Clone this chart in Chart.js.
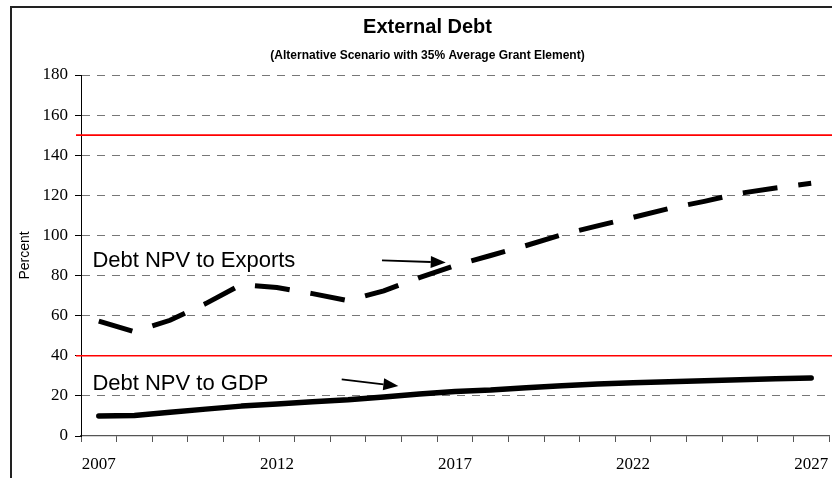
<!DOCTYPE html>
<html>
<head>
<meta charset="utf-8">
<title>External Debt</title>
<script src="https://cdn.jsdelivr.net/npm/chart.js@4/dist/chart.umd.min.js"></script>
<style>
  html, body { margin: 0; padding: 0; background: #fff; }
  #wrap { width: 832px; height: 478px; position: relative; }
</style>
</head>
<body>
<div id="wrap"><canvas id="debtChart" width="832" height="478"></canvas></div>
<script>
// Годы прогноза
const years = ['2007', '2008', '2009', '2010', '2011', '2012', '2013', '2014', '2015', '2016',
  '2017', '2018', '2019', '2020', '2021', '2022', '2023', '2024', '2025', '2026', '2027'];

// NPV долга к экспорту, %
const debtToExports = [57.3, 52, 57.7, 66, 75.5, 74, 71, 67.5, 72.4, 79,
  85, 90, 95, 100.4, 104.8, 109, 113.4, 117, 121, 123.7, 126];

// NPV долга к ВВП, %
const debtToGdp = [10, 10.2, 11.8, 13.4, 14.9, 16.0, 17.1, 18.1, 19.5, 20.9,
  22.2, 22.9, 24.0, 25.1, 25.9, 26.5, 27.1, 27.6, 28.0, 28.5, 28.9];

// Пороговые значения (красные линии)
const thresholds = [150, 40];

// Подписи серий со стрелками: [индекс года, значение]
const seriesNotes = [
  { text: 'Debt NPV to Exports', at: [-0.18, 84.3], from: [7.95, 87.6], to: [9.74, 86.5] },
  { text: 'Debt NPV to GDP', at: [-0.18, 23.1], from: [6.82, 28.2], to: [8.41, 24.9] },
];

// Рамка, пороги, подписи и стрелки
const decorations = {
  id: 'decorations',
  beforeDraw(chart) {
    const { ctx } = chart;
    ctx.save();
    ctx.strokeStyle = '#222';
    ctx.lineWidth = 2;
    ctx.beginPath();
    ctx.moveTo(11, chart.height);
    ctx.lineTo(11, 7);
    ctx.lineTo(chart.width, 7);
    ctx.stroke();
    ctx.restore();
  },
  beforeDatasetsDraw(chart) {
    const { ctx, chartArea } = chart;
    const y = chart.scales.y;
    ctx.save();
    ctx.strokeStyle = '#ff0000';
    ctx.lineWidth = 1.6;
    thresholds.forEach((v) => {
      const py = y.getPixelForValue(v);
      ctx.beginPath();
      ctx.moveTo(chartArea.left - 5, py);
      ctx.lineTo(chart.width, py);
      ctx.stroke();
    });
    ctx.restore();
  },
  afterDatasetsDraw(chart) {
    const { ctx } = chart;
    const { x, y } = chart.scales;
    const px = (p) => [x.getPixelForValue(p[0]), y.getPixelForValue(p[1])];
    ctx.save();
    ctx.fillStyle = '#000';
    ctx.strokeStyle = '#000';
    ctx.font = '22px "Liberation Sans", Arial, sans-serif';
    ctx.textBaseline = 'alphabetic';
    ctx.textAlign = 'left';
    seriesNotes.forEach((n) => {
      const [tx, ty] = px(n.at);
      ctx.fillText(n.text, tx, ty);

      // стрелка
      const [x1, y1] = px(n.from);
      const [x2, y2] = px(n.to);
      const ang = Math.atan2(y2 - y1, x2 - x1);
      const head = 15;
      const half = 6;
      const bx = x2 - head * Math.cos(ang);
      const by = y2 - head * Math.sin(ang);
      ctx.lineWidth = 1.8;
      ctx.beginPath();
      ctx.moveTo(x1, y1);
      ctx.lineTo(bx, by);
      ctx.stroke();
      ctx.beginPath();
      ctx.moveTo(x2, y2);
      ctx.lineTo(bx + half * Math.sin(ang), by - half * Math.cos(ang));
      ctx.lineTo(bx - half * Math.sin(ang), by + half * Math.cos(ang));
      ctx.closePath();
      ctx.fill();
    });
    ctx.restore();
  },
};

const serif = '"Liberation Serif", "Times New Roman", serif';
const sans = '"Liberation Sans", Arial, sans-serif';

new Chart(document.getElementById('debtChart'), {
  type: 'line',
  data: {
    labels: years,
    datasets: [
      {
        label: 'Debt NPV to Exports',
        data: debtToExports,
        borderColor: '#000',
        borderWidth: 5,
        borderDash: [35, 21],
        borderCapStyle: 'butt',
        pointRadius: 0,
        tension: 0,
      },
      {
        label: 'Debt NPV to GDP',
        data: debtToGdp,
        borderColor: '#000',
        borderWidth: 5.5,
        borderCapStyle: 'round',
        borderJoinStyle: 'round',
        pointRadius: 0,
        tension: 0,
      },
    ],
  },
  options: {
    responsive: false,
    animation: false,
    devicePixelRatio: 1,
    // левый отступ сдвигает заголовок, ширина оси Y компенсирует его
    layout: { padding: { top: 0, left: 26, right: 3, bottom: 0 } },
    plugins: {
      legend: { display: false },
      tooltip: { enabled: false },
      title: {
        display: true,
        text: 'External Debt',
        color: '#000',
        font: { family: sans, size: 20, weight: 'bold', lineHeight: 1 },
        padding: { top: 17, bottom: 0 },
      },
      subtitle: {
        display: true,
        text: '(Alternative Scenario with 35% Average Grant Element)',
        color: '#000',
        font: { family: sans, size: 12, weight: 'bold', lineHeight: 1 },
        padding: { top: 13, bottom: 13 },
      },
    },
    scales: {
      x: {
        type: 'category',
        offset: true,
        afterFit: (scale) => {
          scale.height = 42;
          // подписи крайних лет помещаются в своих ячейках
          scale.paddingLeft = 0;
          scale.paddingRight = 0;
        },
        grid: {
          offset: true,
          drawOnChartArea: false,
          drawTicks: true,
          tickLength: 6,
          color: '#555',
          tickColor: '#555',
        },
        border: { color: '#555', width: 1.2 },
        ticks: {
          autoSkip: false,
          maxRotation: 0,
          color: '#000',
          padding: 12,
          font: { family: serif, size: 17 },
          callback: (value, index) => (index % 5 === 0 ? years[index] : ''),
        },
      },
      y: {
        min: 0,
        max: 180,
        afterFit: (scale) => { scale.width = 55; },
        grid: {
          color: (ctx) => (ctx.tick && ctx.tick.value === 0 ? 'rgba(0,0,0,0)' : '#777'),
          tickColor: '#000',
          tickLength: 6,
          lineWidth: 1,
        },
        border: { color: '#000', width: 1, dash: [8, 7] },
        ticks: {
          stepSize: 20,
          color: '#000',
          padding: 7,
          font: { family: serif, size: 17 },
        },
        title: {
          display: true,
          text: 'Percent',
          color: '#000',
          font: { family: sans, size: 14 },
          padding: { top: -9, bottom: 0 },
        },
      },
    },
  },
  plugins: [decorations],
});
</script>
</body>
</html>
